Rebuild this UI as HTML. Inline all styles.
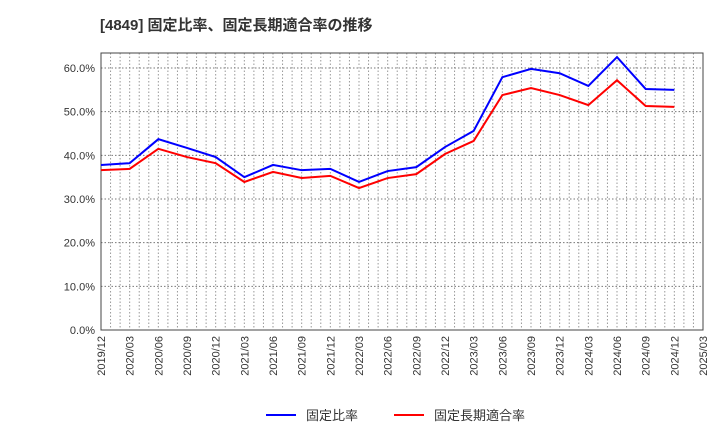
<!DOCTYPE html>
<html><head><meta charset="utf-8"><style>
body{margin:0;background:#fff;font-family:"Liberation Sans","Noto Sans CJK JP",sans-serif}
</style></head><body>
<svg id="c" width="720" height="440" xmlns="http://www.w3.org/2000/svg">
<text x="100" y="30" font-size="15" font-weight="bold" fill="#333" font-family="Liberation Sans,Noto Sans CJK JP,sans-serif">[4849]  固定比率、固定長期適合率の推移</text>
<g id="grid"></g><g id="axes"></g><g id="series"></g>
<g>
<line x1="266" y1="415" x2="296" y2="415" stroke="#0000ff" stroke-width="2"/>
<text x="306" y="420" font-size="13" fill="#333">固定比率</text>
<line x1="394" y1="415" x2="424" y2="415" stroke="#ff0000" stroke-width="2"/>
<text x="434" y="420" font-size="13" fill="#333">固定長期適合率</text>
</g>
</svg>
<script>
const categories=["2019/12","2020/03","2020/06","2020/09","2020/12","2021/03","2021/06","2021/09","2021/12","2022/03","2022/06","2022/09","2022/12","2023/03","2023/06","2023/09","2023/12","2024/03","2024/06","2024/09","2024/12","2025/03"];
const fixedRatio=[37.8,38.2,43.7,41.7,39.6,35.0,37.8,36.6,36.9,33.9,36.4,37.3,41.9,45.6,57.9,59.8,58.8,55.9,62.5,55.2,55.0];
const fixedLongTerm=[36.6,36.9,41.5,39.6,38.2,33.9,36.2,34.8,35.3,32.5,34.8,35.7,40.3,43.3,53.8,55.4,53.8,51.5,57.2,51.3,51.1];
const yTicks=[0,10,20,30,40,50,60];
const L=101,R=703,T=53,B=330,NS="http://www.w3.org/2000/svg";
const x=i=>L+(R-L)*i/(categories.length-1);
const y=v=>B-(B-68)*v/60;
function mk(t,a,p){const e=document.createElementNS(NS,t);for(const k in a)e.setAttribute(k,a[k]);p.appendChild(e);return e;}
const g=document.getElementById('grid'),ax=document.getElementById('axes'),s=document.getElementById('series');
for(let m=1;m<(categories.length-1)*3;m++){const xx=L+(R-L)*m/((categories.length-1)*3);
const l=mk('line',{x1:xx,x2:xx,y1:T,y2:B,stroke:'#999','stroke-dasharray':'1.5,2','stroke-width':1},g);

}
yTicks.forEach(v=>{const l=mk('line',{x1:L,x2:R,y1:y(v),y2:y(v),stroke:'#777','stroke-dasharray':'1.5,2','stroke-width':1},g);


const t=mk('text',{x:L-6,y:y(v)+4,'text-anchor':'end','font-size':11,fill:'#333'},ax);t.textContent=v.toFixed(1)+'%';

});
const fr=mk('rect',{x:L,y:T,width:R-L,height:B-T,fill:'none',stroke:'#444','stroke-width':1},ax);


categories.forEach((c,i)=>{const t=mk('text',{transform:`translate(${x(i)+4},${B+6}) rotate(-90)`,'text-anchor':'end','font-size':11,fill:'#333'},ax);t.textContent=c;

});
[[fixedRatio,'#0000ff','fixed-ratio-line'],[fixedLongTerm,'#ff0000','fixed-long-term-line']].forEach(([d,c,n])=>{
const p=mk('polyline',{points:d.map((v,i)=>x(i)+','+y(v)).join(' '),fill:'none',stroke:c,'stroke-width':2},s);

});
</script>
</body></html>
